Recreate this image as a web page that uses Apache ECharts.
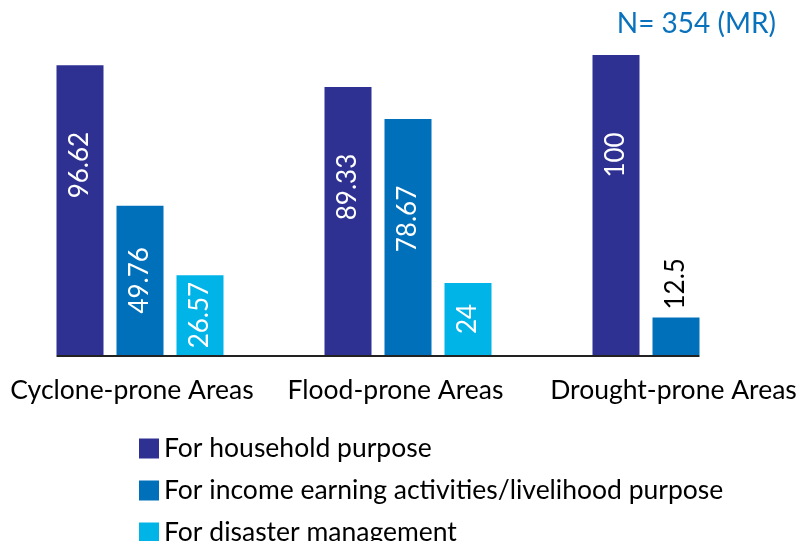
<!DOCTYPE html>
<html>
<head>
<meta charset="utf-8">
<script src="https://cdn.jsdelivr.net/npm/echarts@6/dist/echarts.min.js"></script>
<style>
    html, body { margin: 0; padding: 0; background: #fff; }
    #chart { width: 798px; height: 541px; }
</style>
</head>
<body>
<div id="chart"></div>
<script>
const categories = ['Cyclone-prone Areas', 'Flood-prone Areas', 'Drought-prone Areas'];
const seriesNames = [
    'For household purpose',
    'For income earning activities/livelihood purpose',
    'For disaster management',
];
const household = [96.62, 89.33, 100];
const incomeEarning = [49.76, 78.67, 12.5];
const disasterMgmt = [26.57, 24, null];
const sampleNote = 'N= 354 (MR)';

const colors = ['#2E3192', '#0070BA', '#00B4E8'];
const FONT = 'Lato';
const TEXT_SIZE = 26.5;
const BAR_W = 47;
const GAP_PX = 13;

const chartDom = document.getElementById('chart');
const chart = echarts.init(chartDom, null, { renderer: 'canvas' });

function barLabel(value) {
    if (value == null) return {};
    if (value < 20) {
        // too short to hold the text, sits above the bar
        return {
            position: 'top', distance: 8, align: 'left', verticalAlign: 'middle', color: '#000',
        };
    }
    if (value > 66.7) {
        return {
            position: 'insideTop', distance: 100, align: 'center', verticalAlign: 'middle',
        };
    }
    return { position: 'inside' };
}

function buildSeries() {
    return [household, incomeEarning, disasterMgmt].map((vals, i) => ({
        name: seriesNames[i],
        type: 'bar',
        barWidth: BAR_W,
        barGap: `${(GAP_PX / BAR_W) * 100}%`,
        itemStyle: { color: colors[i] },
        label: {
            show: true,
            rotate: 90,
            color: '#fff',
            fontFamily: FONT,
            fontSize: 26,
        },
        data: vals.map((v) => ({ value: v, label: barLabel(v) })),
    }));
}

const labelPad = {
    a: [0, 16, 0, 0],
    b: [0, 25, 0, 0],
    c: [0, 5, 0, 0],
};

const axisText = { fontFamily: FONT, fontSize: TEXT_SIZE, color: '#000' };

const option = {
    animation: false,
    title: {
        text: sampleNote,
        right: 22,
        top: 10,
        padding: 0,
        textStyle: {
            color: '#0A72BC', fontFamily: FONT, fontSize: 28, fontWeight: 'normal',
        },
    },
    legend: {
        orient: 'vertical',
        left: 139,
        top: 435,
        height: 200,
        padding: 0,
        itemWidth: 20,
        itemHeight: 20,
        itemGap: 15,
        icon: 'rect',
        textStyle: {
            color: '#000', fontFamily: FONT, fontSize: TEXT_SIZE, lineHeight: 26, padding: [0, 0, 0, 0],
        },
        data: seriesNames,
    },
    grid: {
        left: 6,
        right: -12,
        top: 55,
        bottom: 186,
        outerBoundsMode: 'none',
    },
    xAxis: {
        type: 'category',
        data: categories,
        axisLine: { show: false },
        axisTick: { show: false },
        axisLabel: {
            interval: 0,
            hideOverlap: false,
            margin: 22,
            ...axisText,
            formatter: (val, idx) => `{${'abc'[idx]}|${val}}`,
            rich: {
                a: { padding: labelPad.a, ...axisText },
                b: { padding: labelPad.b, ...axisText },
                c: { padding: labelPad.c, ...axisText },
            },
        },
    },
    yAxis: {
        type: 'value',
        min: 0,
        max: 100,
        show: false,
        splitLine: { show: false },
    },
    series: buildSeries(),
};

function drawBaseline() {
    const first = chart.convertToPixel({ xAxisIndex: 0 }, categories[0]);
    const last = chart.convertToPixel({ xAxisIndex: 0 }, categories[categories.length - 1]);
    const y0 = chart.convertToPixel({ yAxisIndex: 0 }, 0);
    const half = (3 * BAR_W + 2 * GAP_PX) / 2;
    chart.setOption({
        graphic: [{
            type: 'line',
            shape: {
                x1: first - half, y1: y0 + 1, x2: last - half + 2 * BAR_W + GAP_PX, y2: y0 + 1,
            },
            style: { stroke: '#222', lineWidth: 2 },
            z: 10,
        }],
    });
}

chart.setOption(option);
drawBaseline();
</script>
</body>
</html>
